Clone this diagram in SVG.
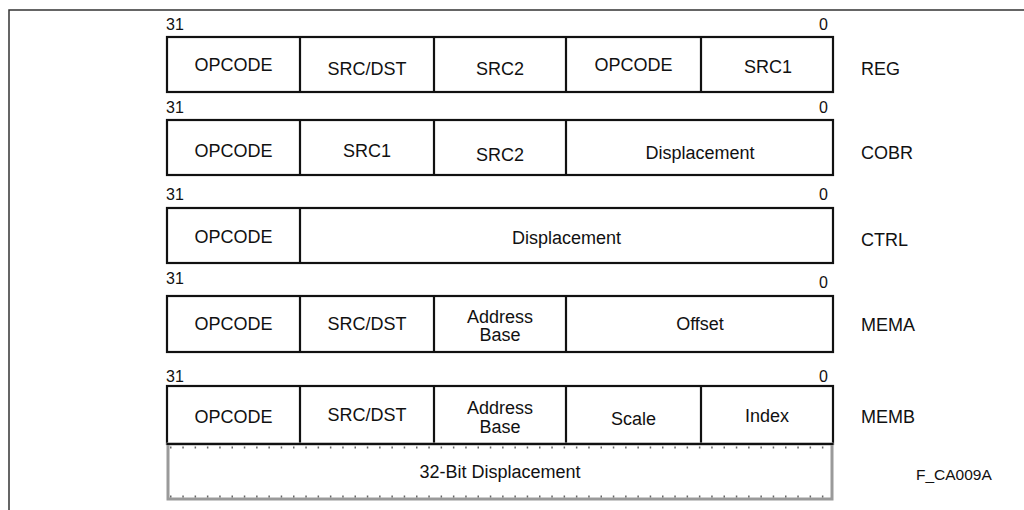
<svg xmlns="http://www.w3.org/2000/svg" width="1024" height="510" viewBox="0 0 1024 510">
<style>
text{font-family:"Liberation Sans",Arial,sans-serif;fill:#111}
.f{font-size:18px;text-anchor:middle}
.n{font-size:16px}
.r{font-size:16px;text-anchor:end}
.l{font-size:18px}
.box{fill:#fff;stroke:#111;stroke-width:2.2}
.div{stroke:#111;stroke-width:2.2}
</style>
<rect width="1024" height="510" fill="#fff"/>
<g id="frame"><path d="M9,510 V10 H1024" fill="none" stroke="#333" stroke-width="1.5"/></g>

<g id="reg">
<rect class="box" x="167" y="37" width="666" height="55"/>
<path class="div" d="M300,37V92M434,37V92M566,37V92M701,37V92"/>
<text class="n" x="166" y="30">31</text><text class="r" x="828" y="30">0</text>
<text class="f" x="233.5" y="71">OPCODE</text>
<text class="f" x="367" y="75">SRC/DST</text>
<text class="f" x="500" y="75">SRC2</text>
<text class="f" x="633.5" y="71">OPCODE</text>
<text class="f" x="768" y="73">SRC1</text>
<text class="l" x="861" y="75">REG</text>
</g>

<g id="cobr">
<rect class="box" x="167" y="120" width="666" height="55"/>
<path class="div" d="M300,120V175M434,120V175M566,120V175"/>
<text class="n" x="166" y="113">31</text><text class="r" x="828" y="113">0</text>
<text class="f" x="233.5" y="157">OPCODE</text>
<text class="f" x="367" y="157">SRC1</text>
<text class="f" x="500" y="161">SRC2</text>
<text class="f" x="700" y="159">Displacement</text>
<text class="l" x="861" y="159">COBR</text>
</g>

<g id="ctrl">
<rect class="box" x="167" y="208" width="666" height="55"/>
<path class="div" d="M300,208V263"/>
<text class="n" x="166" y="200">31</text><text class="r" x="828" y="200">0</text>
<text class="f" x="233.5" y="243">OPCODE</text>
<text class="f" x="566.5" y="244">Displacement</text>
<text class="l" x="861" y="246">CTRL</text>
</g>

<g id="mema">
<rect class="box" x="167" y="296" width="666" height="56"/>
<path class="div" d="M300,296V352M434,296V352M566,296V352"/>
<text class="n" x="166" y="284">31</text><text class="r" x="828" y="288">0</text>
<text class="f" x="233.5" y="330">OPCODE</text>
<text class="f" x="367" y="330">SRC/DST</text>
<text class="f" x="500" y="323">Address<tspan x="500" dy="18">Base</tspan></text>
<text class="f" x="700" y="330">Offset</text>
<text class="l" x="861" y="331">MEMA</text>
</g>

<g id="memb">
<rect class="box" x="167" y="386" width="666" height="58"/>
<path class="div" d="M300,386V444M434,386V444M566,386V444M701,386V444"/>
<text class="n" x="166" y="382">31</text><text class="r" x="828" y="382">0</text>
<text class="f" x="233.5" y="423">OPCODE</text>
<text class="f" x="367" y="421">SRC/DST</text>
<text class="f" x="500" y="414">Address<tspan x="500" dy="18.5">Base</tspan></text>
<text class="f" x="633.5" y="425">Scale</text>
<text class="f" x="767" y="422">Index</text>
<text class="l" x="861" y="423">MEMB</text>
</g>

<g id="disp32">
<rect x="168" y="444" width="664" height="55" fill="#fff" stroke="#9a9a9a" stroke-width="3"/>
<path d="M170,447.5H830M170,496.5H830" stroke="#666" stroke-width="2" stroke-dasharray="1.5 10.8"/>
<path class="div" d="M167,444H833"/>
<text class="f" x="500" y="478">32-Bit Displacement</text>
</g>

<text x="916" y="480" font-size="15.5" style="font-family:'Liberation Sans',Arial,sans-serif">F_CA009A</text>
</svg>
